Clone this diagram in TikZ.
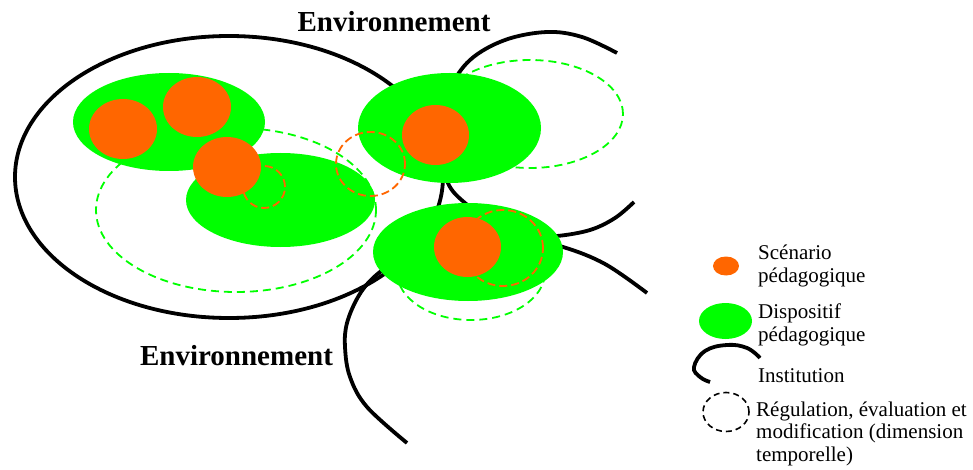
\documentclass[tikz,border=0pt]{standalone}
\usepackage{fontspec}
\setmainfont{Liberation Serif}
\usetikzlibrary{shapes.geometric}
\definecolor{dispgreen}{HTML}{00FF00}
\definecolor{scenorange}{HTML}{FF6600}
\begin{document}
\begin{tikzpicture}[x=1pt,y=-1pt,
  inst/.style={draw=black,line width=3.8pt},
  blob/.style={ellipse,draw=none,inner sep=0pt,outer sep=0pt},
  disp/.style={blob,fill=dispgreen},
  scen/.style={blob,fill=scenorange},
  regg/.style={ellipse,draw=dispgreen,line width=1.8pt,dash pattern=on 8pt off 5pt,inner sep=0pt},
  rego/.style={ellipse,draw=scenorange,line width=1.8pt,dash pattern=on 8pt off 4pt,inner sep=0pt},
  envtext/.style={font=\fontsize{29}{31}\selectfont\bfseries,inner sep=0pt,anchor=base},
  legtext/.style={font=\fontsize{21}{22.5}\selectfont,inner sep=0pt,anchor=base west,align=left}
]
\useasboundingbox (0,0) rectangle (973,470);

% Institutions
\draw[inst] (229,177) ellipse [x radius=214, y radius=141];
\draw[inst] plot[smooth,tension=0.6] coordinates {(617,53) (582,37) (547,32) (505,40) (470,60) (450,90) (442,130) (446,178) (465,203) (500,225) (535,235) (557,236) (590,230) (615,218) (634,202)};
\draw[inst] plot[smooth,tension=0.6] coordinates {(407,443) (367,407) (350,377) (345,347) (347,323) (358,297) (373,278) (395,262) (430,245) (470,238) (520,238) (563,247) (605,264) (647,293)};

% Dispositifs
\node[disp,minimum width=192pt,minimum height=98pt] (g1) at (169,122) {};
\node[disp,minimum width=189pt,minimum height=94pt] (g2) at (280.5,200) {};
\node[disp,minimum width=183pt,minimum height=110pt] (g3) at (449.5,128) {};
\node[disp,minimum width=190pt,minimum height=98pt] (g4) at (468,252) {};

% Regulations (green)
\node[regg,minimum width=280pt,minimum height=164pt] (rg2) at (236,210) {};
\node[regg,minimum width=186pt,minimum height=108pt] (rg3) at (530,114) {};
\node[regg,minimum width=148pt,minimum height=96pt] (rg4) at (471,272) {};

% Regulations (orange)
\node[rego,minimum width=42pt,minimum height=42pt] (ro1) at (264,187) {};
\node[rego,minimum width=69pt,minimum height=64pt] (ro2) at (370.5,164) {};
\node[rego,minimum width=80pt,minimum height=76pt] (ro3) at (503,248) {};

% Scenarios
\node[scen,minimum width=68pt,minimum height=60pt] (sA) at (123,129) {};
\node[scen,minimum width=68pt,minimum height=60pt] (sB) at (197,107) {};
\node[scen,minimum width=68pt,minimum height=60pt] (sC) at (227,167) {};
\node[scen,minimum width=67pt,minimum height=60pt] (sD) at (435.5,135) {};
\node[scen,minimum width=67pt,minimum height=60pt] (sE) at (467.5,247) {};

% Environnement labels
\node[envtext] (env1) at (394,32) {Environnement};
\node[envtext] (env2) at (236.5,365) {Environnement};

% Legend
\node[scen,minimum width=26pt,minimum height=19pt] (lo) at (726,266) {};
\node[disp,minimum width=53pt,minimum height=36pt] (lg) at (725.5,321) {};
\draw[line width=3.8pt] plot[smooth,tension=0.7] coordinates {(760,358) (747,348) (727,345) (705,351) (694,367) (700,377) (710,382)};
\node[ellipse,draw=black,line width=1.6pt,dash pattern=on 6pt off 4pt,inner sep=0pt,minimum width=46pt,minimum height=39pt] (lr) at (726,412) {};

\node[legtext] (t1) at (758,282) {Scénario\\pédagogique};
\node[legtext] (t2) at (758,341) {Dispositif\\pédagogique};
\node[legtext] (t3) at (758,382) {Institution};
\node[legtext] (t4) at (756,461) {Régulation, évaluation et\\modification (dimension\\temporelle)};
\end{tikzpicture}
\end{document}
